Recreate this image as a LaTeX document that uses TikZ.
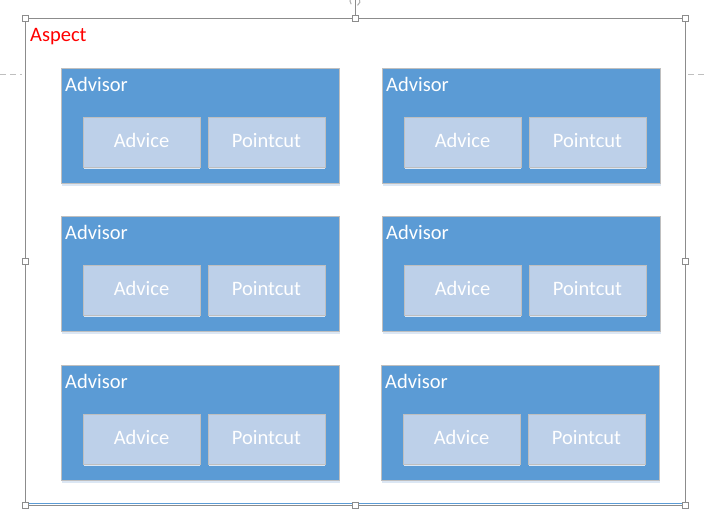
\documentclass[tikz,border=0pt]{standalone}
\usepackage{fontspec}
\setmainfont{Carlito}
\definecolor{advblue}{HTML}{5B9BD5}
\definecolor{partblue}{HTML}{BDD0E9}
\definecolor{rimgray}{HTML}{BFBFBF}
\definecolor{framegray}{HTML}{8C8C8C}
\definecolor{shadowblue}{HTML}{DCE7F4}
\tikzset{
  txt/.style={font=\fontsize{20.5}{24}\selectfont},
  advisor/.style={draw=rimgray, fill=advblue, line width=0.8pt, minimum width=278pt, minimum height=115pt, inner sep=0pt, outer sep=0pt, anchor=north west},
  part/.style={txt, draw=rimgray, fill=partblue, text=white, line width=0.8pt, minimum width=117pt, minimum height=50pt, inner sep=0pt, outer sep=0pt, anchor=north west, text height=12pt, text depth=1.4pt},
  advlabel/.style={txt, text=white, anchor=base west, inner sep=0pt},
  handle/.style={draw=framegray, fill=white, line width=0.8pt, minimum size=6pt, inner sep=0pt},
  guide/.style={draw=rimgray, line width=0.8pt, dash pattern=on 6pt off 4pt}
}
\begin{document}
\begin{tikzpicture}[x=1pt,y=-1pt]
\useasboundingbox (0,0) rectangle (704,528);
\clip (0,0) rectangle (704,528);
\fill[white] (0,0) rectangle (704,528);
% selection frame
\node[draw=framegray, line width=1pt, minimum width=660pt, minimum height=487pt, inner sep=0pt, outer sep=0pt, anchor=north west] (frame) at (25,18) {};
\draw[advblue, line width=1.2pt] ([yshift=1.6pt]frame.south west) -- ([yshift=1.6pt]frame.south east);
\node[txt, text=red, anchor=base west, inner sep=0pt] (aspect) at (30,41) {Aspect};
% guides
\coordinate (gl) at (0,74);
\coordinate (gr) at (704,74);
\draw[guide] (gl) -- ([xshift=-3pt]frame.west |- gl);
\draw[guide] ([xshift=3pt]frame.east |- gr) -- (gr);
% advisors
\foreach \x/\y/\n in {61/68/1, 382/68/2, 61/216/3, 382/216/4, 61/365/5, 381/365/6}{
  \fill[shadowblue] (\x+1,\y+115) rectangle (\x+279,\y+118);
  \node[advisor] (adv\n) at (\x,\y) {};
  \node[advlabel] (advl\n) at (\x+4,\y+23) {Advisor};
  \fill[shadowblue] (\x+23,\y+99) rectangle (\x+139,\y+101);
  \fill[shadowblue] (\x+148,\y+99) rectangle (\x+264,\y+101);
  \node[part] (advice\n) at (\x+22,\y+49) {Advice};
  \node[part] (pc\n) at (\x+147,\y+49) {Pointcut};
}
% rotation handle
\coordinate (rot) at (355,1);
\draw[framegray, line width=0.8pt] (frame.north) -- ([yshift=5pt]rot);
\draw[framegray!70, line width=1pt] ([shift={(-60:5pt)}]rot) arc[start angle=-60, end angle=220, radius=5pt];
% handles
\foreach \a in {north west, north, north east, west, east, south west, south, south east}{
  \node[handle] at (frame.\a) {};
}
\end{tikzpicture}
\end{document}
